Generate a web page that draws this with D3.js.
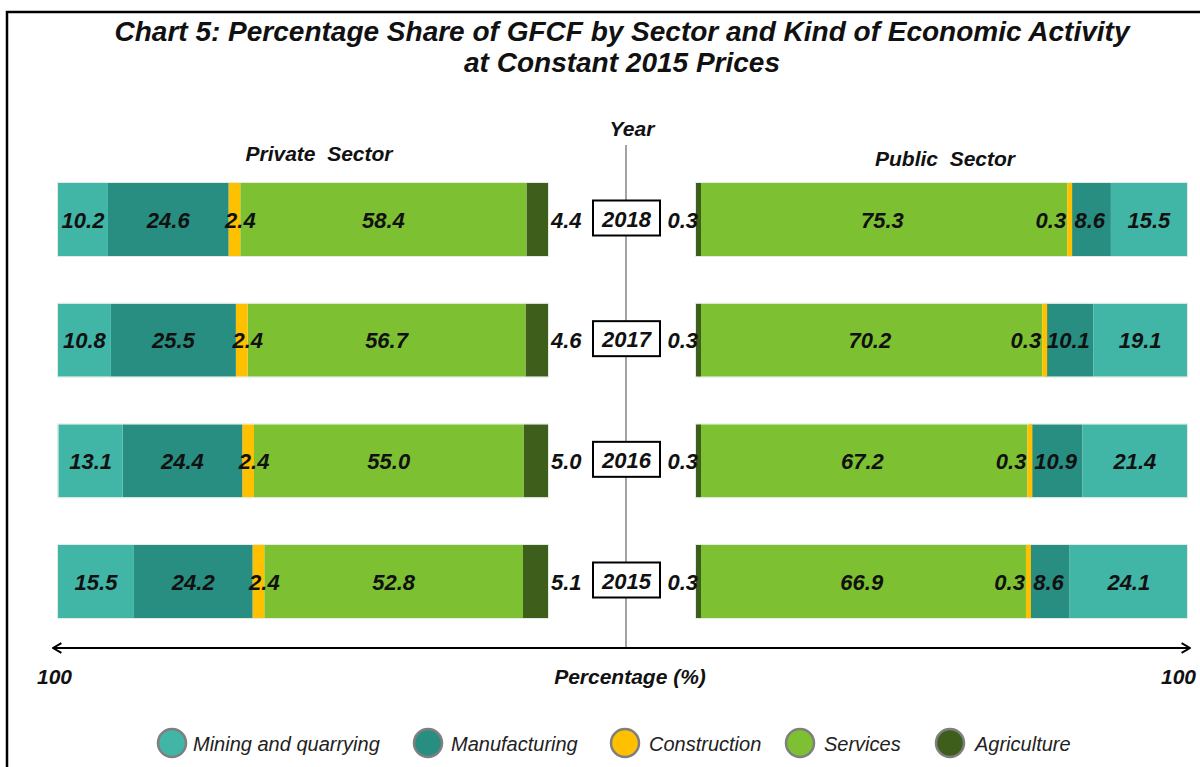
<!DOCTYPE html>
<html>
<head>
<meta charset="utf-8">
<script src="https://cdn.jsdelivr.net/npm/d3@7"></script>
<style>
html,body{margin:0;padding:0;background:#fff;}
svg{display:block;font-family:"Liberation Sans",Arial,sans-serif;}
text{white-space:pre;}
</style>
</head>
<body>
<svg id="chart" width="1200" height="767"></svg>
<script>
// ---- data ----
const years = ["2018", "2017", "2016", "2015"];
const sectors = ["Mining and quarrying", "Manufacturing", "Construction", "Services", "Agriculture"];
const sectorColors = ["#41B6A7", "#288E82", "#FFC000", "#7DC132", "#3E5E1C"];

const privateMining        = [10.2, 10.8, 13.1, 15.5];
const privateManufacturing = [24.6, 25.5, 24.4, 24.2];
const privateConstruction  = [2.4, 2.4, 2.4, 2.4];
const privateServices      = [58.4, 56.7, 55.0, 52.8];
const privateAgriculture   = [4.4, 4.6, 5.0, 5.1];

const publicMining         = [15.5, 19.1, 21.4, 24.1];
const publicManufacturing  = [8.6, 10.1, 10.9, 8.6];
const publicConstruction   = [0.3, 0.3, 0.3, 0.3];
const publicServices       = [75.3, 70.2, 67.2, 66.9];
const publicAgriculture    = [0.3, 0.3, 0.3, 0.3];

const axisEndLabels = ["100", "100"];

// ---- build ----
const svg = d3.select("#chart");

// frame
svg.append("rect").attr("x", 7).attr("y", 12).attr("width", 1210).attr("height", 800)
  .attr("fill", "none").attr("stroke", "#000").attr("stroke-width", 2.5);

// title
const title = svg.append("text").attr("text-anchor", "middle")
  .attr("font-size", 28).attr("font-weight", "bold").attr("font-style", "italic").attr("fill", "#111");
title.append("tspan").attr("x", 622).attr("y", 41).text("Chart 5: Percentage Share of GFCF by Sector and Kind of Economic Activity");
title.append("tspan").attr("x", 622).attr("y", 72).text("at Constant 2015 Prices");

// scales
const y = d3.scalePoint().domain(years).range([219.5, 581.5]);
const barH = 73;
const xL = d3.scaleLinear().domain([0, 100]).range([548, 58]);
const xR = d3.scaleLinear().domain([0, 100]).range([696, 1187]);
const color = d3.scaleOrdinal().domain(sectors).range(sectorColors);

// stacking order from the centre outward
const order = ["Agriculture", "Services", "Construction", "Manufacturing", "Mining and quarrying"];
const privateData = {
  "Mining and quarrying": privateMining, "Manufacturing": privateManufacturing,
  "Construction": privateConstruction, "Services": privateServices, "Agriculture": privateAgriculture
};
const publicData = {
  "Mining and quarrying": publicMining, "Manufacturing": publicManufacturing,
  "Construction": publicConstruction, "Services": publicServices, "Agriculture": publicAgriculture
};

// centre line
const cx = 626;
svg.append("line").attr("x1", cx).attr("x2", cx).attr("y1", 145).attr("y2", 648)
  .attr("stroke", "#9a9a9a").attr("stroke-width", 1.8);

function segments(dataObj) {
  const segs = [];
  years.forEach((yr, i) => {
    let c = 0;
    order.forEach(s => {
      const v = dataObj[s][i];
      segs.push({year: yr, sector: s, v: v, x0: c, x1: c + v});
      c += v;
    });
  });
  return segs;
}

const minW = 5;
const labelFont = 22;
function drawPanel(dataObj, x, side) {
  const segs = segments(dataObj);
  const sorted = segs.slice().sort((a, b) => (a.v < 1) - (b.v < 1));
  const g = svg.append("g");
  g.selectAll("rect").data(sorted).enter().append("rect")
    .attr("x", d => {
      const a = x(d.x0), b = x(d.x1);
      const w = Math.max(Math.abs(b - a), minW);
      return side === "left" ? Math.max(a, b) - w : Math.min(a, b);
    })
    .attr("width", d => Math.max(Math.abs(x(d.x1) - x(d.x0)), minW))
    .attr("y", d => y(d.year) - barH / 2)
    .attr("height", barH)
    .attr("fill", d => color(d.sector));
  years.forEach(yr => {
    g.append("rect").attr("x", Math.min(x(0), x(100)) - 0.5).attr("width", Math.abs(x(100) - x(0)) + 1)
      .attr("y", y(yr) - barH / 2 - 0.5).attr("height", barH + 1)
      .attr("fill", "none").attr("stroke", "#e3ece3").attr("stroke-width", 1);
  });

  const lg = svg.append("g").attr("font-size", labelFont).attr("font-weight", "bold")
    .attr("font-style", "italic").attr("fill", "#111");
  segs.forEach(d => {
    const label = d.v.toFixed(1);
    let tx, anchor = "middle";
    if (d.sector === "Agriculture") {
      if (side === "left") { tx = x(0) + 3; anchor = "start"; }
      else { tx = x(0) + 2; anchor = "end"; }
    } else if (d.sector === "Construction") {
      if (side === "left") { tx = (x(d.x0) + x(d.x1)) / 2 + 6; anchor = "middle"; }
      else { tx = x(d.x0) - 1; anchor = "end"; }
    } else {
      tx = (x(d.x0) + x(d.x1)) / 2;
    }
    lg.append("text").attr("x", tx).attr("y", y(d.year) + 8)
      .attr("text-anchor", anchor).text(label);
  });
}

drawPanel(privateData, xL, "left");
drawPanel(publicData, xR, "right");

// year boxes
years.forEach(yr => {
  svg.append("rect").attr("x", cx - 33).attr("y", y(yr) - 19).attr("width", 67).attr("height", 35)
    .attr("fill", "#fff").attr("stroke", "#000").attr("stroke-width", 2);
  svg.append("text").attr("x", cx + 0.5).attr("y", y(yr) + 7).attr("text-anchor", "middle")
    .attr("font-size", labelFont).attr("font-weight", "bold").attr("font-style", "italic").attr("fill", "#111")
    .text(yr);
});

// headings
const hd = (t, xx, yy) => svg.append("text").attr("x", xx).attr("y", yy).attr("text-anchor", "middle")
  .attr("font-size", 21).attr("font-weight", "bold").attr("font-style", "italic").attr("fill", "#111").text(t);
hd("Year", 632, 136);
hd("Private  Sector", 319, 161);
hd("Public  Sector", 945, 166);

// bottom axis with arrows
const defs = svg.append("defs");
defs.append("marker").attr("id", "arre").attr("viewBox", "0 0 10 10")
  .attr("refX", 9).attr("refY", 5).attr("markerWidth", 12).attr("markerHeight", 12)
  .attr("markerUnits", "userSpaceOnUse").attr("orient", 0)
  .append("path").attr("d", "M2,1 L9,5 L2,9").attr("fill", "none").attr("stroke", "#000").attr("stroke-width", 1.6);
defs.append("marker").attr("id", "arrs").attr("viewBox", "0 0 10 10")
  .attr("refX", 1).attr("refY", 5).attr("markerWidth", 12).attr("markerHeight", 12)
  .attr("markerUnits", "userSpaceOnUse").attr("orient", 0)
  .append("path").attr("d", "M8,1 L1,5 L8,9").attr("fill", "none").attr("stroke", "#000").attr("stroke-width", 1.6);
svg.append("line").attr("x1", 53).attr("x2", 1190).attr("y1", 648).attr("y2", 648)
  .attr("stroke", "#000").attr("stroke-width", 2)
  .attr("marker-start", "url(#arrs)").attr("marker-end", "url(#arre)");

const ax = (t, xx, anchor) => svg.append("text").attr("x", xx).attr("y", 684).attr("text-anchor", anchor)
  .attr("font-size", 21).attr("font-weight", "bold").attr("font-style", "italic").attr("fill", "#111").text(t);
ax(axisEndLabels[0], 37, "start");
ax("Percentage (%)", 630, "middle");
ax(axisEndLabels[1], 1161, "start");

// legend
const legendX = [172, 428, 625, 800, 950];
const legendTextX = [193, 451, 649, 824, 975];
const lgd = svg.append("g");
sectors.forEach((s, i) => {
  lgd.append("ellipse").attr("cx", legendX[i]).attr("cy", 743).attr("rx", 14).attr("ry", 14)
    .attr("fill", color(s)).attr("stroke", "#7f7f7f").attr("stroke-width", 2.5);
  lgd.append("text").attr("x", legendTextX[i]).attr("y", 751)
    .attr("font-size", 20).attr("font-style", "italic").attr("fill", "#222").text(s);
});
</script>
</body>
</html>
